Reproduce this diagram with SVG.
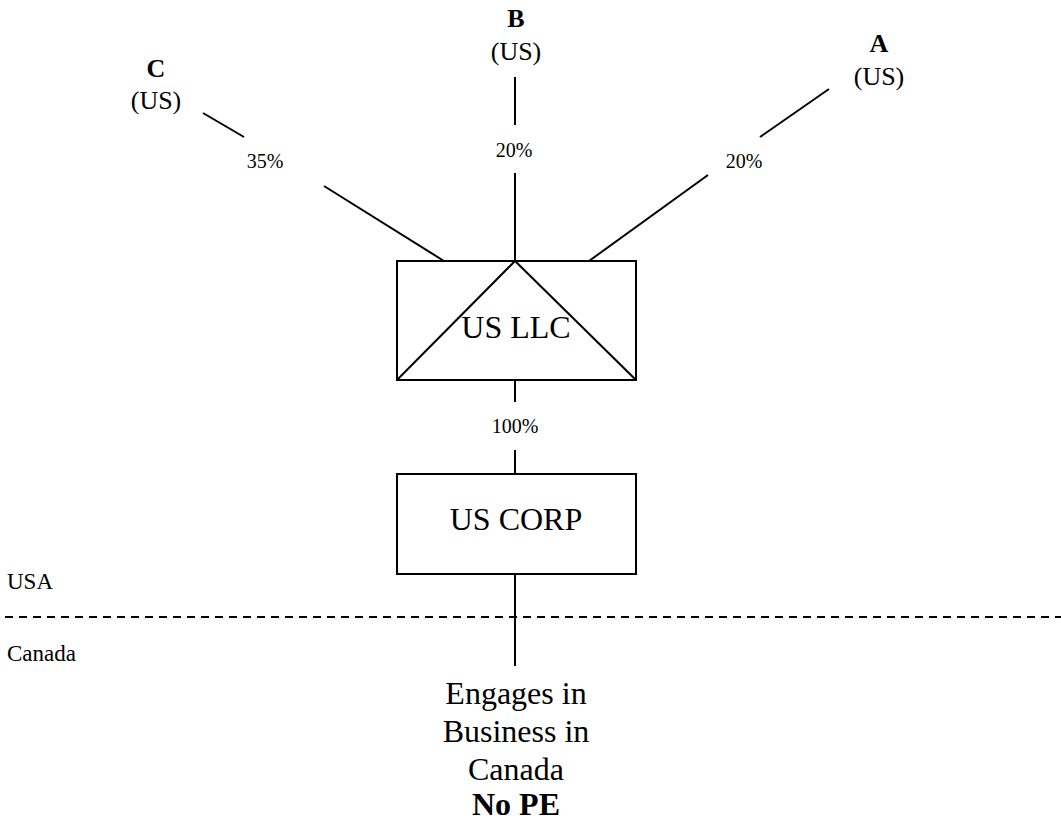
<svg xmlns="http://www.w3.org/2000/svg" width="1061" height="820" viewBox="0 0 1061 820" font-family="'Liberation Serif', 'Times New Roman', Tinos, 'DejaVu Serif', serif">
<style>
text{font-family:'Liberation Serif','Times New Roman',Tinos,'DejaVu Serif',serif;fill:#000}
.n{font-size:26px;text-anchor:middle}
.b{font-weight:bold}
.p{font-size:20px;text-anchor:middle}
.box{fill:#fff;stroke:#000;stroke-width:2}
.ln{stroke:#000;stroke-width:2;fill:none}
.big{font-size:32px;text-anchor:middle}
.cty{font-size:23px}
</style>
<rect width="1061" height="820" fill="#fff"/>
<g id="connectors">
<line class="ln" x1="203" y1="113" x2="244" y2="137"/>
<line class="ln" x1="324" y1="186" x2="444" y2="261"/>
<line class="ln" x1="515" y1="77" x2="515" y2="125"/>
<line class="ln" x1="515" y1="173" x2="515" y2="261"/>
<line class="ln" x1="829" y1="89" x2="760" y2="137"/>
<line class="ln" x1="708" y1="175" x2="589" y2="261"/>
<line class="ln" x1="515" y1="377" x2="515" y2="402"/>
<line class="ln" x1="515" y1="450" x2="515" y2="474"/>
<line class="ln" x1="515" y1="574" x2="515" y2="666"/>
<text class="p" x="265" y="168">35%</text>
<text class="p" x="514" y="157">20%</text>
<text class="p" x="744" y="168">20%</text>
<text class="p" x="515" y="433">100%</text>
</g>
<g id="border">
<line x1="5" y1="617" x2="1061" y2="617" stroke="#000" stroke-width="2" stroke-dasharray="8,6"/>
<text class="cty" x="7" y="589">USA</text>
<text class="cty" x="7" y="661">Canada</text>
</g>
<g id="nodeC">
<text class="n b" x="156" y="77">C</text>
<text class="n" x="156" y="109">(US)</text>
</g>
<g id="nodeB">
<text class="n b" x="516" y="27">B</text>
<text class="n" x="516" y="60">(US)</text>
</g>
<g id="nodeA">
<text class="n b" x="879" y="52">A</text>
<text class="n" x="879" y="85">(US)</text>
</g>
<g id="usllc">
<rect class="box" x="397" y="261" width="239" height="119"/>
<polyline class="ln" points="397,380 515,261 636,380"/>
<text class="big" x="516" y="338">US LLC</text>
</g>
<g id="uscorp">
<rect class="box" x="397" y="474" width="239" height="100"/>
<text class="big" x="516" y="530">US CORP</text>
</g>
<g id="business">
<text class="big" x="516" y="704">Engages in</text>
<text class="big" x="516" y="742">Business in</text>
<text class="big" x="516" y="780">Canada</text>
<text class="big b" x="516" y="815">No PE</text>
</g>
</svg>
